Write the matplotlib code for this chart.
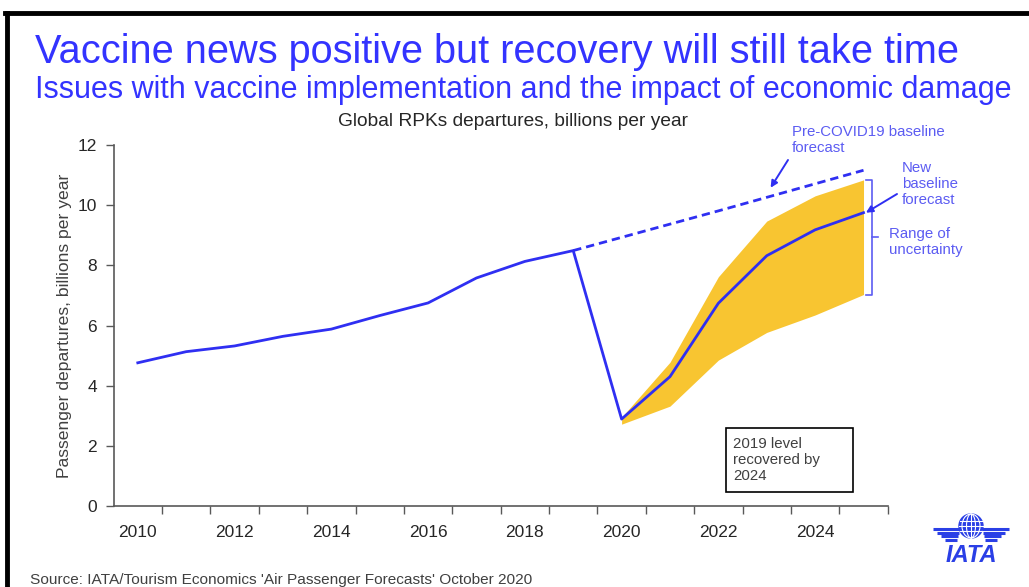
import matplotlib.pyplot as plt
from matplotlib.patches import Circle, Ellipse, Rectangle
from matplotlib.lines import Line2D
import numpy as np

plt.rcParams['font.family'] = ['Liberation Sans', 'DejaVu Sans']

# data (billions of passenger departures per year)
years = list(range(2010, 2026))
actual_new = [4.76, 5.13, 5.32, 5.64, 5.88, 6.33, 6.75, 7.58, 8.13, 8.49,
              2.89, 4.30, 6.74, 8.32, 9.18, 9.75]
band_years = list(range(2020, 2026))
band_upper = [2.95, 4.78, 7.62, 9.47, 10.31, 10.84]
band_lower = [2.72, 3.32, 4.85, 5.77, 6.35, 7.03]
pre_years = list(range(2019, 2026))
pre_covid = [8.49, 8.93, 9.37, 9.81, 10.26, 10.71, 11.16]
tick_years = [2010, 2012, 2014, 2016, 2018, 2020, 2022, 2024]

W, H = 1029, 587
BLUE = '#2f2ff2'
TXTBLUE = '#5c5cf2'
GREY = '#404040'
YELLOW = '#f8c531'


def fx(x):
    return x / W


def fy(y):
    return 1 - y / H


fig = plt.figure(figsize=(W / 100, H / 100), dpi=100)
fig.patch.set_facecolor('white')

# slide frame
fig.add_artist(Line2D([fx(5), 1], [fy(13), fy(13)], color='black', lw=3.5))
fig.add_artist(Line2D([fx(6.5), fx(6.5)], [fy(13), 0], color='black', lw=3.5))

fig.text(fx(35), fy(52), 'Vaccine news positive but recovery will still take time',
         color='#3333ff', fontsize=28.6, va='center', ha='left')
fig.text(fx(35), fy(90), 'Issues with vaccine implementation and the impact of economic damage',
         color='#3333ff', fontsize=22, va='center', ha='left')
fig.text(fx(513), fy(121), 'Global RPKs departures, billions per year',
         color='#262626', fontsize=13.8, va='center', ha='center')

ax = fig.add_axes([fx(113.6), fy(506), (887.7 - 113.6) / W, (506 - 145) / H])
ax.fill_between(band_years, band_lower, band_upper, color=YELLOW, lw=0, zorder=1)
ax.plot(pre_years, pre_covid, color=BLUE, lw=2, ls=(0, (3, 1.8)), zorder=3)
ax.plot(years, actual_new, color=BLUE, lw=2, zorder=3)

ax.set_xlim(2009.5, 2025.5)
ax.set_ylim(0, 12)
ax.set_xticks(tick_years)
ax.set_xticklabels([str(y) for y in tick_years])
ax.set_xticks(np.arange(2010.5, 2026, 1), minor=True)
ax.tick_params(axis='x', which='major', length=0, pad=14, labelsize=12.5, labelcolor='#262626')
ax.tick_params(axis='x', which='minor', length=6, width=1, color='#595959', direction='out')
ax.set_yticks(range(0, 13, 2))
ax.tick_params(axis='y', length=6, width=1, color='#595959', pad=6, labelsize=12.5,
               labelcolor='#262626')
for s in ['top', 'right']:
    ax.spines[s].set_visible(False)
for s in ['left', 'bottom']:
    ax.spines[s].set_color('#595959')
    ax.spines[s].set_linewidth(1.2)
fig.text(fx(64.5), fy(326), 'Passenger departures, billions per year', rotation=90,
         fontsize=12.6, color='#404040', ha='center', va='center')

# bracket for the range of uncertainty
bx = years[-1] + 0.17
ax.plot([bx - 0.12, bx, bx, bx - 0.12], [band_upper[-1], band_upper[-1], band_lower[-1], band_lower[-1]],
        color=TXTBLUE, lw=1.2, clip_on=False)
mid = (band_upper[-1] + band_lower[-1]) / 2
ax.plot([bx, bx + 0.12], [mid, mid], color=TXTBLUE, lw=1.2, clip_on=False)

fig.text(fx(792), fy(140), 'Pre-COVID19 baseline\nforecast', color=TXTBLUE, fontsize=10.8,
         va='center', ha='left', linespacing=1.2)
fig.text(fx(902), fy(184), 'New\nbaseline\nforecast', color=TXTBLUE, fontsize=10.8,
         va='center', ha='left', linespacing=1.2)
fig.text(fx(889), fy(242), 'Range of\nuncertainty', color=TXTBLUE, fontsize=10.8,
         va='center', ha='left', linespacing=1.2)

ax.annotate('', xy=(2023.08, 10.58), xycoords='data', xytext=(fx(788), fy(160)),
            textcoords='figure fraction',
            arrowprops=dict(arrowstyle='-|>', color=BLUE, lw=1.4, mutation_scale=10,
                            shrinkA=0, shrinkB=0))
ax.annotate('', xy=(years[-1] + 0.05, actual_new[-1]), xycoords='data', xytext=(fx(897), fy(194)),
            textcoords='figure fraction',
            arrowprops=dict(arrowstyle='-|>', color=BLUE, lw=1.4, mutation_scale=10,
                            shrinkA=0, shrinkB=0), annotation_clip=False)

# recovery note box
fig.add_artist(Rectangle((fx(725.7), fy(491.7)), (853.3 - 725.7) / W, (491.7 - 428.3) / H,
                         fill=False, edgecolor='black', lw=1.2))
fig.text(fx(733), fy(460), '2019 level\nrecovered by\n2024', color=GREY, fontsize=10.8,
         va='center', ha='left', linespacing=1.2)

fig.text(fx(30), fy(580), "Source: IATA/Tourism Economics 'Air Passenger Forecasts' October 2020",
         color='#404040', fontsize=11.1, va='center', ha='left')

# simple IATA logo
LOGO = '#2a3fe6'
lg = fig.add_axes([fx(930), fy(565), 84 / W, 54 / H])
lg.set_xlim(0, 84)
lg.set_ylim(0, 54)
lg.set_aspect('equal')
lg.axis('off')
lg.add_patch(Circle((41, 39), 12, color=LOGO))
for w in [4.5, 9]:
    lg.add_patch(Ellipse((41, 39), w * 2, 24, fill=False, edgecolor='white', lw=0.8))
lg.plot([41, 41], [27, 51], color='white', lw=0.8)
for yy in [34, 39, 44]:
    half = np.sqrt(max(144 - (yy - 39) ** 2, 0))
    lg.plot([41 - half, 41 + half], [yy, yy], color='white', lw=0.8)
for i, yy in enumerate([36, 32.5, 29, 25.5]):
    lg.plot([3 + i * 4, 30 - i * 1], [yy, yy], color=LOGO, lw=2.2, solid_capstyle='butt')
    lg.plot([52 + i * 1, 79 - i * 4], [yy, yy], color=LOGO, lw=2.2, solid_capstyle='butt')
lg.text(41, 10, 'IATA', color=LOGO, fontsize=17, fontweight='bold', fontstyle='italic',
        ha='center', va='center')

fig.savefig('out.png', dpi=100)
